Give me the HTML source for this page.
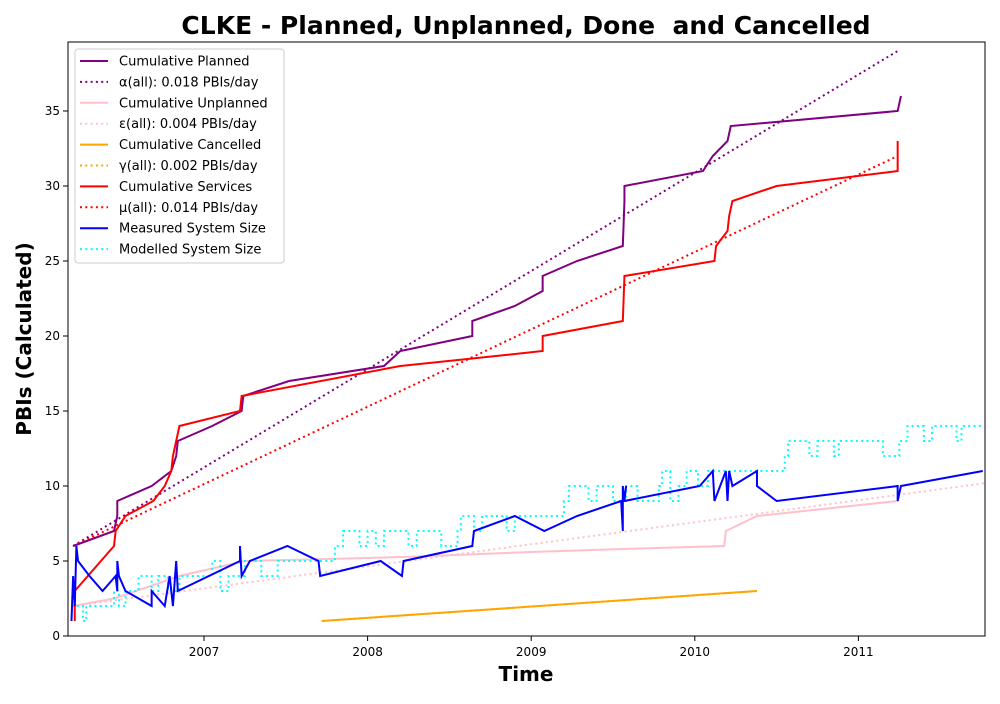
<!DOCTYPE html>
<html><head><meta charset="utf-8"><style>
body{margin:0;background:#fff;font-family:"DejaVu Sans","Liberation Sans",sans-serif}
text{white-space:pre}
</style></head><body>
<svg id="c" width="1000" height="700" xmlns="http://www.w3.org/2000/svg" font-family="DejaVu Sans, Liberation Sans, sans-serif"></svg>
<script>
const planned=[[2006.2,6],[2006.45,7],[2006.47,8],[2006.47,9],[2006.68,10],[2006.8,11],[2006.83,12],[2006.84,13],[2007.05,14],[2007.23,15],[2007.24,16],[2007.52,17],[2008.1,18],[2008.2,19],[2008.64,20],[2008.64,21],[2008.9,22],[2009.07,23],[2009.07,24],[2009.28,25],[2009.56,26],[2009.57,29],[2009.57,30],[2010.05,31],[2010.11,32],[2010.2,33],[2010.22,34],[2011.24,35],[2011.26,36]];
const services=[[2006.21,1],[2006.21,3],[2006.45,6],[2006.46,7],[2006.52,8],[2006.69,9],[2006.76,10],[2006.8,11],[2006.81,12],[2006.83,13],[2006.85,14],[2007.22,15],[2007.23,16],[2008.2,18],[2008.64,18.5],[2009.07,19],[2009.07,20],[2009.56,21],[2009.57,24],[2010.12,25],[2010.13,26],[2010.2,27],[2010.21,28],[2010.23,29],[2010.5,30],[2011.24,31],[2011.24,33]];
const unplanned=[[2006.2,2],[2006.45,2.5],[2006.85,4],[2007.05,4.5],[2007.25,5],[2008,5.2],[2008.3,5.3],[2009,5.6],[2009.56,5.8],[2010.18,6],[2010.19,7],[2010.38,8],[2011.24,9]];
const cancelled=[[2007.72,1],[2010.38,3]];
const measured=[[2006.19,1],[2006.2,4],[2006.21,2],[2006.22,6],[2006.23,5],[2006.3,4],[2006.38,3],[2006.46,4],[2006.47,3],[2006.47,5],[2006.48,4],[2006.52,3],[2006.68,2],[2006.68,3],[2006.76,2],[2006.79,4],[2006.81,2],[2006.83,5],[2006.84,3],[2007.22,5],[2007.22,6],[2007.23,4],[2007.28,5],[2007.51,6],[2007.7,5],[2007.71,4],[2008.08,5],[2008.21,4],[2008.22,5],[2008.64,6],[2008.65,7],[2008.9,8],[2009.08,7],[2009.28,8],[2009.55,9],[2009.56,7],[2009.56,10],[2009.57,9],[2009.58,10],[2009.57,9],[2010.03,10],[2010.11,11],[2010.12,9],[2010.19,11],[2010.2,9],[2010.21,11],[2010.23,10],[2010.38,11],[2010.38,10],[2010.5,9],[2011.24,10],[2011.24,9],[2011.26,10],[2011.76,11]];
const modelled=[[2006.19,2],[2006.26,1],[2006.28,2],[2006.45,3],[2006.48,2],[2006.52,3],[2006.6,4],[2006.68,3],[2006.72,4],[2006.78,3],[2006.85,4],[2007.05,5],[2007.1,3],[2007.15,4],[2007.25,5],[2007.35,4],[2007.45,5],[2007.72,5],[2007.8,6],[2007.85,7],[2007.95,6],[2008,7],[2008.05,6],[2008.1,7],[2008.25,6],[2008.3,7],[2008.45,6],[2008.55,7],[2008.57,8],[2008.65,7],[2008.7,8],[2008.85,7],[2008.9,8],[2009.15,8],[2009.2,9],[2009.23,10],[2009.35,9],[2009.4,10],[2009.5,9],[2009.58,10],[2009.65,9],[2009.78,10],[2009.8,11],[2009.85,9],[2009.9,10],[2009.95,11],[2010.02,10],[2010.08,11],[2010.37,11],[2010.5,11],[2010.55,12],[2010.57,13],[2010.7,12],[2010.75,13],[2010.85,12],[2010.88,13],[2011.15,12],[2011.25,13],[2011.3,14],[2011.4,13],[2011.45,14],[2011.6,13],[2011.63,14],[2011.76,14]];
const fitP=[[2006.2,6],[2011.24,39]];
const fitU=[[2006.2,2],[2011.78,10.2]];
const fitC=[[2007.72,1],[2010.38,3]];
const fitS=[[2006.2,6],[2011.24,32]];
const xTicks=[2007,2008,2009,2010,2011];
const yTicks=[0,5,10,15,20,25,30,35];
const L=68,R=985,T=42,B=636;
const X=t=>204+(t-2007)*163.6, Y=v=>B-v*15;
const svg=document.getElementById('c');const NS='http://www.w3.org/2000/svg';
function mk(tag,a,p){const e=document.createElementNS(NS,tag);for(const k in a)e.setAttribute(k,a[k]);(p||svg).appendChild(e);return e;}
let t=mk('text',{x:526,y:34,'text-anchor':'middle','font-size':25,'font-weight':'bold'});t.textContent='CLKE - Planned, Unplanned, Done  and Cancelled';


function line(d,col,dash,name,step){let pts=[];d.forEach((p,i)=>{if(step&&i>0)pts.push(X(p[0])+','+Y(d[i-1][1]));pts.push(X(p[0])+','+Y(p[1]));});
const e=mk('polyline',{points:pts.join(' '),fill:'none',stroke:col,'stroke-width':2,'stroke-dasharray':dash?'2,3.3':'none'});

}
line(unplanned,'pink',0,'unplanned-line');line(fitU,'pink',1,'unplanned-fit');
line(cancelled,'orange',0,'cancelled-line');line(fitC,'orange',1,'cancelled-fit');
line(modelled,'cyan',1,'modelled-line',true);
line(fitP,'purple',1,'planned-fit');line(fitS,'red',1,'services-fit');
line(planned,'purple',0,'planned-line');line(services,'red',0,'services-line');
line(measured,'blue',0,'measured-line');
const ax=mk('rect',{x:L,y:T,width:R-L,height:B-T,fill:'none',stroke:'#000','stroke-width':1});


xTicks.forEach(v=>{mk('line',{x1:X(v),x2:X(v),y1:B,y2:B+5,stroke:'#000'});const e=mk('text',{x:X(v),y:B+20,'text-anchor':'middle','font-size':12});e.textContent=v;

});
yTicks.forEach(v=>{mk('line',{x1:L-5,x2:L,y1:Y(v),y2:Y(v),stroke:'#000'});const e=mk('text',{x:L-8,y:Y(v)+4,'text-anchor':'end','font-size':12});e.textContent=v;

});
t=mk('text',{x:526,y:681,'text-anchor':'middle','font-size':20,'font-weight':'bold'});t.textContent='Time';


t=mk('text',{x:31,y:339,'text-anchor':'middle','font-size':20,'font-weight':'bold',transform:'rotate(-90 31 339)'});t.textContent='PBIs (Calculated)';


const lg=mk('g',{});


mk('rect',{x:75,y:49,width:209,height:214,rx:3,fill:'#fff','fill-opacity':0.8,stroke:'#ccc'},lg);
const leg=[['Cumulative Planned','purple',0],['α(all): 0.018 PBIs/day','purple',1],['Cumulative Unplanned','pink',0],['ε(all): 0.004 PBIs/day','pink',1],['Cumulative Cancelled','orange',0],['γ(all): 0.002 PBIs/day','orange',1],['Cumulative Services','red',0],['μ(all): 0.014 PBIs/day','red',1],['Measured System Size','blue',0],['Modelled System Size','cyan',1]];
leg.forEach((l,i)=>{const y=61+i*20.9;const g=mk('g',{},lg);


mk('line',{x1:80,x2:108,y1:y,y2:y,stroke:l[1],'stroke-width':2,'stroke-dasharray':l[2]?'2,3.3':'none'},g);
const e=mk('text',{x:119,y:y+4.5,'font-size':13},g);e.textContent=l[0];});
</script>
</body></html>
